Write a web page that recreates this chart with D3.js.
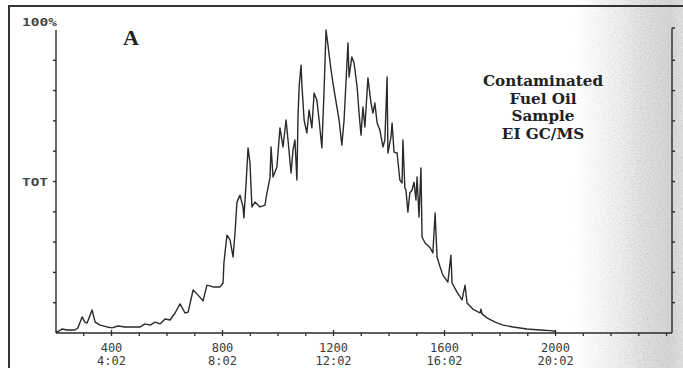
<!DOCTYPE html>
<html>
<head>
<meta charset="utf-8">
<script src="https://cdn.jsdelivr.net/npm/d3@7"></script>
<style>
    body { margin: 0; background: #fff; }
    svg { display: block; }
</style>
</head>
<body>
<div id="data-vis"></div>
<script>
//DATA
//Scan numbers
const scanNo = [
    200, 204, 222, 240, 268, 279, 294, 304, 312, 330,
    341, 359, 384, 402, 423, 449, 477, 503, 521, 539,
    557, 575, 593, 611, 629, 647, 665, 676, 694, 712,
    730, 744, 766, 791, 802, 805, 816, 827, 838, 845,
    852, 863, 874, 877, 885, 892, 899, 906, 917, 935,
    953, 960, 971, 975, 982, 989, 996, 1007, 1018, 1029,
    1036, 1047, 1054, 1061, 1068, 1072, 1076, 1083, 1086, 1094,
    1104, 1112, 1122, 1130, 1140, 1148, 1158, 1166, 1173, 1180,
    1191, 1198, 1212, 1220, 1230, 1238, 1252, 1256, 1266, 1274,
    1285, 1292, 1299, 1306, 1313, 1324, 1335, 1342, 1349, 1357,
    1367, 1378, 1385, 1393, 1396, 1407, 1411, 1418, 1429, 1439,
    1447, 1450, 1457, 1461, 1468, 1475, 1483, 1490, 1497, 1501,
    1508, 1515, 1519, 1530, 1548, 1558, 1566, 1573, 1584, 1594,
    1612, 1623, 1627, 1645, 1663, 1674, 1681, 1702, 1728, 1731,
    1735, 1753, 1782, 1811, 1847, 1897, 1944, 1980, 2000
];

//Total ion current, % of largest peak
const totPct = [
    0.8, 0.3, 1.3, 1.0, 1.0, 1.7, 5.3, 3.6, 3.3, 7.6,
    3.6, 2.6, 2.0, 1.7, 2.3, 2.0, 2.0, 2.0, 3.0, 2.6,
    3.6, 3.0, 4.6, 4.3, 6.6, 9.6, 6.6, 6.9, 14.2, 12.5,
    10.6, 15.8, 15.2, 15.2, 16.5, 23.1, 32.3, 30.7, 25.1, 33.0,
    43.2, 45.5, 41.6, 38.0, 49.5, 61.1, 56.1, 41.6, 43.2, 41.6,
    42.2, 46.2, 51.2, 61.4, 51.5, 53.1, 54.8, 67.7, 61.4, 70.3,
    63.7, 52.8, 60.4, 63.7, 50.5, 71.3, 81.2, 88.4, 82.0, 70.3,
    66.0, 73.6, 67.7, 79.2, 76.9, 70.3, 61.1, 80.2, 100, 95.0,
    86.8, 82.5, 74.6, 70.3, 62.0, 70.3, 95.7, 84.5, 91.1, 89.1,
    81.2, 72.6, 65.3, 74.6, 68.0, 84.2, 75.9, 72.6, 75.9, 69.3,
    67.0, 61.4, 63.7, 84.5, 59.4, 64.7, 69.3, 59.7, 59.4, 50.5,
    49.5, 63.7, 47.9, 47.2, 39.9, 46.2, 47.2, 49.8, 43.9, 51.5,
    38.3, 54.5, 31.7, 29.7, 28.1, 26.4, 39.6, 25.1, 21.8, 19.1,
    16.8, 25.7, 16.5, 13.5, 10.9, 15.8, 9.9, 7.9, 6.6, 7.9,
    6.3, 5.0, 3.6, 2.6, 2.0, 1.3, 1.0, 0.8, 0.6
];

//Labelled scans and their retention times
const majorScans = [400, 800, 1200, 1600, 2000];
const timeLabels = ["4:02", "8:02", "12:02", "16:02", "20:02"];

//Sample description
const noteLines = ["Contaminated", "Fuel Oil", "Sample", "EI GC/MS"];

//SCRIPT PROPERTIES
const w = 683;
const h = 368;

//Plot box
const plotL = 56, plotR = 672, plotT = 30, plotB = 333;

const ink = "#2b2b2b";

//Scales
const x = d3.scaleLinear().domain([200, 2416]).range([plotL, plotR - 1]);
const y = d3.scaleLinear().domain([0, 100]).range([plotB, plotT]);

//Canvas
const svg = d3.select("#data-vis")
    .append("svg")
    .attr("width", w)
    .attr("height", h)
    .style("background-color", "white");

const defs = svg.append("defs");

//Grey shading of the scanned page on the right
const grad = defs.append("linearGradient")
    .attr("id", "shade")
    .attr("x1", 0).attr("x2", 1).attr("y1", 0).attr("y2", 0);
[[0, "#ffffff"], [0.4, "#f1f1f1"], [0.7, "#dedede"], [0.88, "#d6d6d6"], [1, "#e2e2e2"]]
    .forEach(s => grad.append("stop").attr("offset", s[0]).attr("stop-color", s[1]));

//Paper grain
const grain = defs.append("filter").attr("id", "grain")
    .attr("x", 0).attr("y", 0).attr("width", "100%").attr("height", "100%");
grain.append("feTurbulence")
    .attr("type", "fractalNoise")
    .attr("baseFrequency", 0.6)
    .attr("numOctaves", 2)
    .attr("seed", 4);
grain.append("feColorMatrix")
    .attr("type", "matrix")
    .attr("values", "0 0 0 0 0.45  0 0 0 0 0.45  0 0 0 0 0.45  0.8 0.8 0.8 0 -1.05");

const maskGrad = defs.append("linearGradient")
    .attr("id", "fade")
    .attr("x1", 0).attr("x2", 1).attr("y1", 0).attr("y2", 0);
maskGrad.append("stop").attr("offset", 0).attr("stop-color", "#000");
maskGrad.append("stop").attr("offset", 0.6).attr("stop-color", "#bbb");
maskGrad.append("stop").attr("offset", 1).attr("stop-color", "#999");
defs.append("mask").attr("id", "fadeMask")
    .append("rect")
    .attr("x", 575).attr("y", 0).attr("width", 108).attr("height", h)
    .attr("fill", "url(#fade)");

svg.append("rect")
    .attr("x", 575).attr("y", 0).attr("width", 108).attr("height", h)
    .attr("fill", "url(#shade)");
svg.append("rect")
    .attr("x", 575).attr("y", 0).attr("width", 108).attr("height", h)
    .attr("filter", "url(#grain)")
    .attr("mask", "url(#fadeMask)");

//Page frame (top and left edges)
svg.append("line")
    .attr("x1", 8).attr("x2", w).attr("y1", 6).attr("y2", 6)
    .attr("stroke", "#333").attr("stroke-width", 2);
svg.append("line")
    .attr("x1", 9).attr("x2", 9).attr("y1", 6).attr("y2", h)
    .attr("stroke", "#333").attr("stroke-width", 2);

//Axes
const axes = svg.append("g")
    .attr("stroke", ink)
    .attr("fill", "none");

//Left axis with ticks every 10%
axes.append("line")
    .attr("x1", plotL).attr("x2", plotL).attr("y1", plotT).attr("y2", plotB)
    .attr("stroke-width", 1.4);
axes.selectAll(".ltick")
    .data(d3.range(10, 100, 10))
    .enter()
    .append("line")
    .attr("x1", plotL - 3).attr("x2", plotL)
    .attr("y1", d => y(d)).attr("y2", d => y(d))
    .attr("stroke-width", 1.4);

//Right axis with ticks pointing outwards
axes.append("line")
    .attr("x1", plotR).attr("x2", plotR).attr("y1", plotT - 2).attr("y2", plotB)
    .attr("stroke-width", 1.4);
axes.selectAll(".rtick")
    .data(d3.range(10, 101, 10))
    .enter()
    .append("line")
    .attr("x1", plotR).attr("x2", plotR + 3)
    .attr("y1", d => d === 100 ? plotT - 2 : y(d)).attr("y2", d => d === 100 ? plotT - 2 : y(d))
    .attr("stroke-width", 1.4);

//Bottom axis
axes.append("line")
    .attr("x1", plotL).attr("x2", plotR).attr("y1", plotB).attr("y2", plotB)
    .attr("stroke-width", 1.6);
axes.selectAll(".btick")
    .data(d3.range(300, 2401, 100))
    .enter()
    .append("line")
    .attr("x1", d => x(d)).attr("x2", d => x(d))
    .attr("y1", d => majorScans.includes(d) ? plotB - 3 : plotB)
    .attr("y2", plotB + 3)
    .attr("stroke-width", 1.3);

//Y labels (wide dot-matrix style)
svg.append("text")
    .attr("x", 22).attr("y", plotT - 4)
    .attr("textLength", 35)
    .attr("lengthAdjust", "spacingAndGlyphs")
    .attr("font-family", "DejaVu Sans Mono")
    .attr("font-size", 10)
    .attr("font-weight", "bold")
    .attr("fill", "#444")
    .text("100%");
svg.append("text")
    .attr("x", 22).attr("y", y(50) + 4)
    .attr("textLength", 26)
    .attr("lengthAdjust", "spacingAndGlyphs")
    .attr("font-family", "DejaVu Sans Mono")
    .attr("font-size", 10)
    .attr("font-weight", "bold")
    .attr("fill", "#444")
    .text("TOT");

//X labels: scan number over retention time
const xLab = (row, yPos, txt) => svg.selectAll(".xlab" + row)
    .data(majorScans)
    .enter()
    .append("text")
    .attr("x", d => x(d))
    .attr("y", yPos)
    .attr("text-anchor", "middle")
    .attr("font-family", "DejaVu Sans Mono")
    .attr("font-size", 12)
    .attr("fill", "#3a3a3a")
    .text(txt);
xLab(1, 352, d => d);
xLab(2, 365, (d, i) => timeLabels[i]);

//Trace
const trace = d3.line()
    .x(i => x(scanNo[i]))
    .y(i => y(totPct[i]));

svg.append("path")
    .datum(d3.range(scanNo.length))
    .attr("d", trace)
    .attr("fill", "none")
    .attr("stroke", "#2a2a2a")
    .attr("stroke-width", 1.4)
    .attr("stroke-linejoin", "round");

//Panel letter
svg.append("text")
    .attr("x", 131).attr("y", 45)
    .attr("text-anchor", "middle")
    .attr("font-family", "Liberation Serif")
    .attr("font-weight", "bold")
    .attr("font-size", 22)
    .attr("fill", "#222")
    .text("A");

//Sample note
svg.selectAll(".note")
    .data(noteLines)
    .enter()
    .append("text")
    .attr("x", 543)
    .attr("y", (d, i) => 86 + i * 17.7)
    .attr("text-anchor", "middle")
    .attr("font-family", "DejaVu Serif")
    .attr("font-weight", "bold")
    .attr("font-size", 15.2)
    .attr("fill", "#222")
    .text(d => d);
</script>
</body>
</html>
